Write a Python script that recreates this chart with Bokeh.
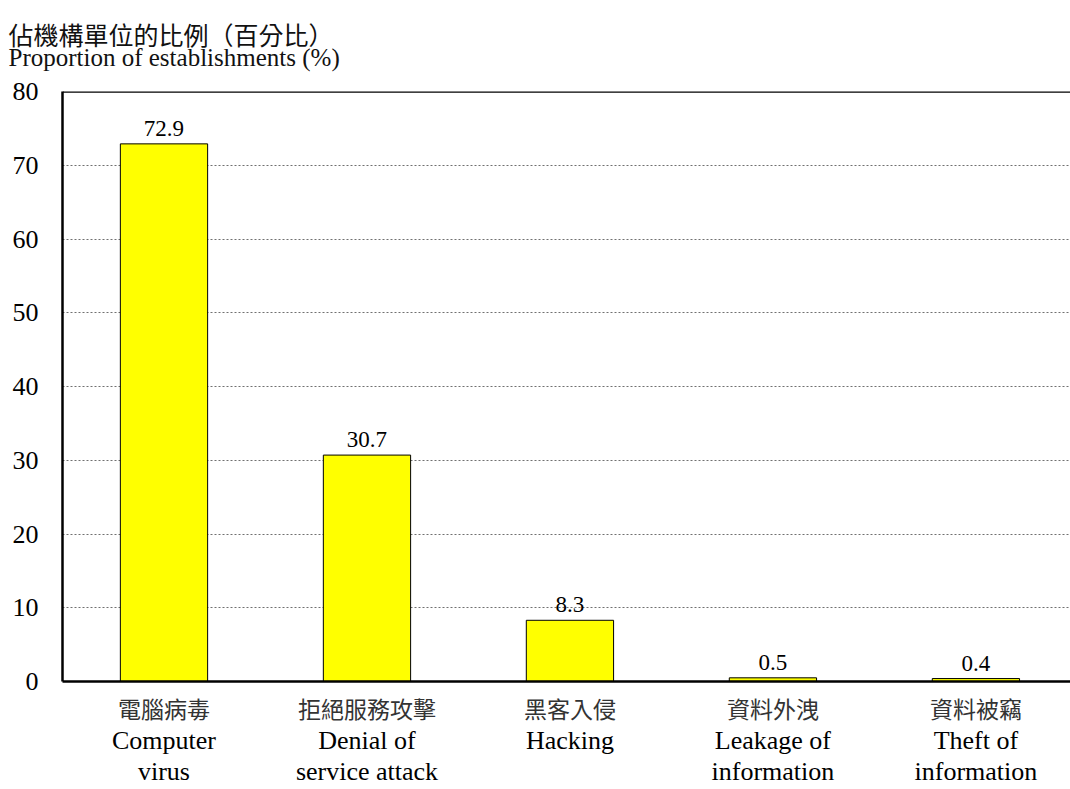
from bokeh.plotting import figure
from bokeh.models import Range1d, FixedTicker, Span, Title, ColumnDataSource, LinearAxis
from bokeh.core.properties import value
from bokeh.embed import file_html
from bokeh.resources import INLINE

categories_zh = ["電腦病毒", "拒絕服務攻擊", "黑客入侵", "資料外洩", "資料被竊"]
categories_en = ["Computer\nvirus", "Denial of\nservice attack", "Hacking", "Leakage of\ninformation", "Theft of\ninformation"]
values = [72.9, 30.7, 8.3, 0.5, 0.4]
y_ticks = [0, 10, 20, 30, 40, 50, 60, 70, 80]
y_title_zh = "佔機構單位的比例（百分比）"
y_title_en = "Proportion of establishments (%)"

SERIF = "'Liberation Serif', 'Times New Roman', serif"
MIXED = "'Liberation Serif', 'Noto Sans CJK TC', serif"
CJK = "'Noto Sans CJK TC', sans-serif"

xs = list(range(len(values)))
src = ColumnDataSource(dict(x=xs, top=values, label=[f"{v:.1f}" for v in values]))

p = figure(width=1070, height=789, output_backend="svg", toolbar_location=None,
           x_range=Range1d(-0.5, 4.466), y_range=Range1d(0, 80),
           min_border_left=62, min_border_right=0, min_border_bottom=100, min_border_top=88)
p.outline_line_color = None
p.background_fill_color = "white"
p.border_fill_color = "white"

p.vbar(x="x", top="top", width=0.43, bottom=0, source=src,
       fill_color="#FFFF00", line_color="black", line_width=1)
p.text(x="x", y="top", text="label", source=src, x_offset=0, y_offset=-8,
       text_align="center", text_baseline="bottom",
       text_font=value(SERIF), text_font_size="23px", text_color="black")

p.add_layout(Span(location=80, dimension="width", line_color="black", line_width=2.5))

# x axis: Chinese labels
p.xaxis.ticker = FixedTicker(ticks=xs)
p.xaxis.major_label_overrides = {i: categories_zh[i] for i in xs}
p.xaxis.major_label_text_font = CJK
p.xaxis.major_label_text_font_size = "23px"
p.xaxis.major_label_text_color = "#333333"
p.xaxis.major_label_standoff = 3
p.xaxis.major_tick_line_color = None
p.xaxis.minor_tick_line_color = None
p.xaxis.axis_line_color = "black"
p.xaxis.axis_line_width = 2.5

# second x axis: English labels
ax_en = LinearAxis(ticker=FixedTicker(ticks=xs),
                   major_label_overrides={i: categories_en[i] for i in xs})
ax_en.major_label_text_font = SERIF
ax_en.major_label_text_font_size = "26px"
ax_en.major_label_text_line_height = 1.1
ax_en.major_label_text_color = "black"
ax_en.major_label_standoff = -8
ax_en.major_tick_line_color = None
ax_en.minor_tick_line_color = None
ax_en.axis_line_color = None
p.add_layout(ax_en, "below")

p.yaxis.ticker = FixedTicker(ticks=y_ticks)
p.yaxis.major_label_text_font = SERIF
p.yaxis.major_label_text_font_size = "26px"
p.yaxis.major_label_text_color = "black"
p.yaxis.major_label_standoff = 18
p.yaxis.major_tick_line_color = None
p.yaxis.minor_tick_line_color = None
p.yaxis.axis_line_color = "black"
p.yaxis.axis_line_width = 2.5

p.xgrid.grid_line_color = None
p.ygrid.ticker = FixedTicker(ticks=y_ticks[1:-1])
p.ygrid.grid_line_color = "#707070"
p.ygrid.grid_line_dash = "2 2"
p.ygrid.grid_line_width = 1

t_both = Title(text=y_title_zh + "\n" + y_title_en, align="left", offset=-54,
               text_font=MIXED, text_font_size="25px", text_font_style="normal",
               text_color="#111111", text_line_height=0.8, standoff=40)
p.add_layout(t_both, "above")

open("out.html", "w").write(file_html(p, INLINE))
